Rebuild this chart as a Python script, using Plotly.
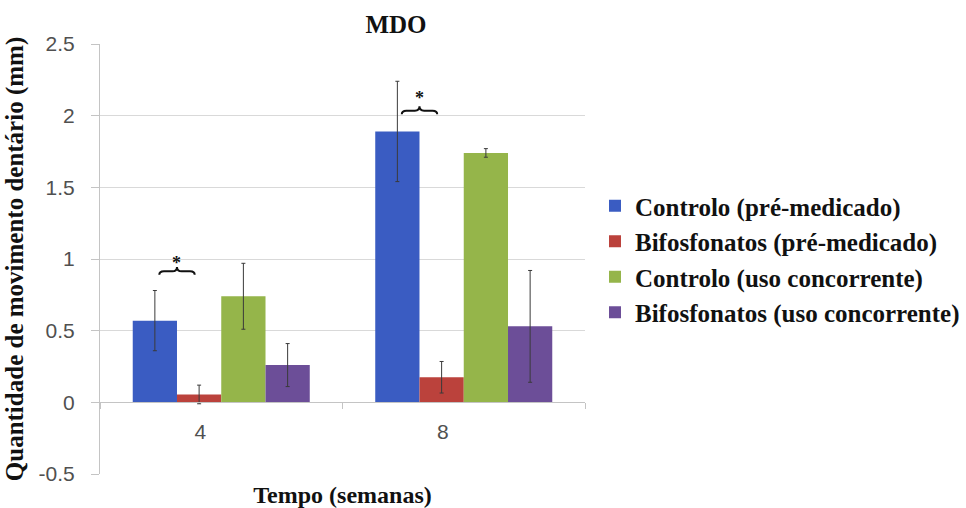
import plotly.graph_objects as go

# Tempo (semanas)
categories = ["4", "8"]

series_names = [
    "Controlo (pré-medicado)",
    "Bifosfonatos (pré-medicado)",
    "Controlo (uso concorrente)",
    "Bifosfonatos (uso concorrente)",
]
ctrl_pre = [0.57, 1.89]
bif_pre = [0.055, 0.175]
ctrl_conc = [0.74, 1.74]
bif_conc = [0.26, 0.53]

ctrl_pre_err = [0.21, 0.35]
bif_pre_err = [0.065, 0.11]
ctrl_conc_err = [0.23, 0.03]
bif_conc_err = [0.15, 0.39]

y_tick_vals = [-0.5, 0, 0.5, 1, 1.5, 2, 2.5]
y_tick_text = ["-0.5", "0", "0.5", "1", "1.5", "2", "2.5"]

# significance marks: brace between the first two bars of each group
sig_brace_base = [0.89, 2.01]
sig_star_y = [1.0, 2.15]

colors = ["#3a5cc2", "#bb423c", "#95b54a", "#6c4e98"]
values = [ctrl_pre, bif_pre, ctrl_conc, bif_conc]
errors = [ctrl_pre_err, bif_pre_err, ctrl_conc_err, bif_conc_err]

BARGAP = 0.27
Y_RANGE = [-0.5, 2.5]

serif = "Liberation Serif"
sans = "Liberation Sans"

fig = go.Figure()
for name, vals, errs, col in zip(series_names, values, errors, colors):
    fig.add_trace(go.Bar(
        name=name,
        x=categories,
        y=vals,
        marker=dict(color=col, line=dict(width=0)),
        error_y=dict(type="data", array=errs, visible=True,
                     color="#3a3a3a", thickness=1, width=2),
    ))

# bar centre offsets within a category (4 bars, no group gap)
bar_w = (1 - BARGAP) / len(series_names)
offsets = [(i - (len(series_names) - 1) / 2) * bar_w for i in range(len(series_names))]

shapes = []
annotations = []
h = 0.055
for ci, (yb, ys) in enumerate(zip(sig_brace_base, sig_star_y)):
    xL = ci + offsets[0] + 0.1 * bar_w
    xR = ci + offsets[1] - 0.1 * bar_w
    xc = (xL + xR) / 2
    q = (xR - xL) * 0.13
    y0 = yb
    y1 = yb + h * 0.45
    y2 = yb + h
    path = (f"M {xL},{y0} Q {xL},{y1} {xL + q},{y1} L {xc - q},{y1} "
            f"Q {xc},{y1} {xc},{y2} Q {xc},{y1} {xc + q},{y1} "
            f"L {xR - q},{y1} Q {xR},{y1} {xR},{y0}")
    shapes.append(dict(type="path", path=path, xref="x", yref="y",
                       line=dict(color="#111111", width=2)))
    annotations.append(dict(x=xc, y=ys, xref="x", yref="y", text="<b>*</b>",
                            showarrow=False, font=dict(family=serif, size=18, color="#111111"),
                            yshift=-4))

zero_pos = (0 - Y_RANGE[0]) / (Y_RANGE[1] - Y_RANGE[0])

fig.update_layout(
    width=966, height=508,
    margin=dict(l=100, r=381, t=44, b=34, autoexpand=False),
    paper_bgcolor="white", plot_bgcolor="white",
    barmode="group", bargap=BARGAP, bargroupgap=0,
    title=dict(text="<b>MDO</b>", x=396 / 966, xref="container", xanchor="center",
               y=1 - 24 / 508, yref="container", yanchor="middle",
               font=dict(family=serif, size=25, color="#111111")),
    legend=dict(xref="container", yref="container", x=595 / 966, y=1 - 183 / 508,
                xanchor="left", yanchor="top", bgcolor="rgba(0,0,0,0)",
                font=dict(family=serif, size=25, color="#111111", weight="bold"),
                traceorder="normal", itemwidth=30, tracegroupgap=0),
    xaxis=dict(
        type="category", anchor="free", position=zero_pos, automargin=False,
        showline=True, linecolor="#c4c4c4", linewidth=1,
        ticks="outside", tickson="boundaries", ticklen=6, tickcolor="#c4c4c4",
        ticklabelshift=-21, ticklabelstandoff=10,
        tickfont=dict(family=sans, size=21, color="#505050"),
        showgrid=False,
        title=dict(text="<b>Tempo (semanas)</b>", standoff=44,
                   font=dict(family=serif, size=24, color="#111111")),
    ),
    yaxis=dict(
        range=Y_RANGE, domain=[0, 1], automargin=False,
        tickvals=y_tick_vals, ticktext=y_tick_text,
        showline=True, linecolor="#c4c4c4", linewidth=1,
        ticks="outside", ticklen=8, tickcolor="#c4c4c4",
        ticklabelstandoff=12,
        tickfont=dict(family=sans, size=21, color="#505050"),
        showgrid=True, gridcolor="#d9d9d9", gridwidth=1,
        zeroline=False,
        title=dict(text="<b>Quantidade de movimento dentário (mm)</b>", standoff=7,
                   font=dict(family=serif, size=25, color="#111111")),
    ),
    shapes=shapes,
    annotations=annotations,
)

fig.write_html("out.html")
